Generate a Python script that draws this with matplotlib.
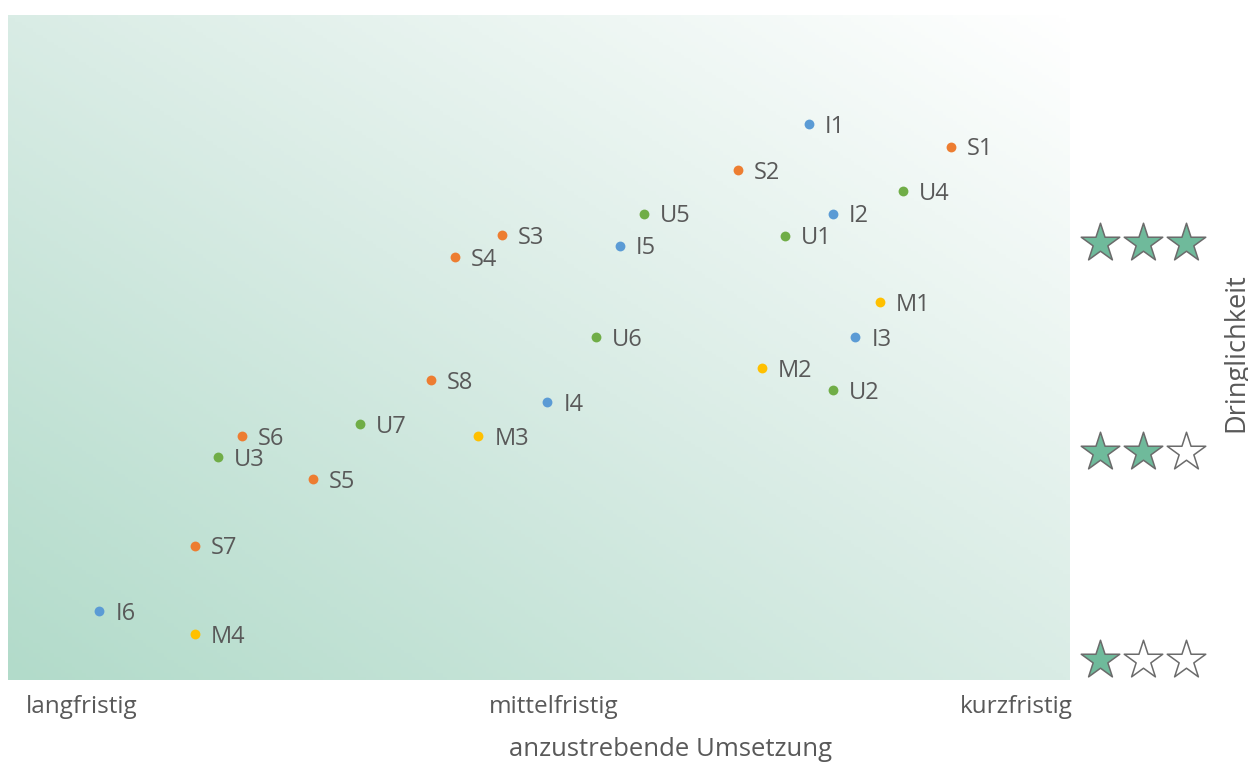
import numpy as np
import matplotlib.pyplot as plt
from matplotlib.colors import LinearSegmentedColormap

# measures: label, x (0 = langfristig, 100 = kurzfristig), y (Dringlichkeit 0..100)
labels = ["I1", "S1", "S2", "U4", "U5", "I2", "S3", "U1", "I5", "S4",
          "M1", "U6", "I3", "S8", "M2", "U2", "I4", "U7", "M3", "S6",
          "U3", "S5", "S7", "I6", "M4"]
x_vals = [75.4, 88.8, 68.7, 84.3, 59.9, 77.7, 46.5, 73.2, 57.6, 42.1,
          82.1, 55.4, 79.8, 39.8, 71.0, 77.7, 50.8, 33.1, 44.3, 22.0,
          19.8, 28.7, 17.6, 8.6, 17.6]
y_vals = [83.6, 80.2, 76.7, 73.5, 70.1, 70.1, 66.9, 66.8, 65.3, 63.6,
          56.8, 51.6, 51.6, 45.1, 46.9, 43.6, 41.8, 38.5, 36.7, 36.7,
          33.5, 30.2, 20.2, 10.4, 6.9]

group_colors = {"I": "#5B9BD5", "S": "#ED7D31", "U": "#70AD47", "M": "#FFC000"}

x_tick_pos = [6.9, 51.4, 94.9]
x_tick_labels = ["langfristig", "mittelfristig", "kurzfristig"]

# star rating rows on the right
star_levels = [3, 2, 1]
star_y = [65.7, 34.3, 3.0]

text_color = "#595959"
plt.rcParams['font.family'] = ['Open Sans', 'DejaVu Sans']

fig = plt.figure(figsize=(12.48, 7.67), dpi=100)
ax = fig.add_axes([8 / 1248, 87 / 767, 1062 / 1248, 665 / 767])
ax.set_xlim(0, 100)
ax.set_ylim(0, 100)

# diagonal gradient background
gx, gy = np.meshgrid(np.linspace(0, 1, 300), np.linspace(0, 1, 200))
t = (gx + gy) / 2
cmap = LinearSegmentedColormap.from_list("bg", ["#b2dbca", "#d9ece5", "#ffffff"])
ax.imshow(t, extent=[0, 100, 0, 100], origin="lower", cmap=cmap,
          aspect="auto", zorder=0, vmin=0, vmax=1)

for lab, x, y in zip(labels, x_vals, y_vals):
    ax.scatter(x, y, s=50, color=group_colors[lab[0]], zorder=3, linewidths=0)
    ax.text(x + 1.5, y - 0.4, lab, fontsize=17, color=text_color, va="center",
            ha="left", zorder=4)

for s in ax.spines.values():
    s.set_visible(False)
ax.set_yticks([])
ax.set_xticks([])

for pos, lab in zip(x_tick_pos, x_tick_labels):
    ax.text(pos, -4.1, lab, ha="center", va="center",
            fontsize=17.5, color=text_color, clip_on=False)
ax.text(62.4, -10.4, "anzustrebende Umsetzung", ha="center", va="center",
        fontsize=18.5, color=text_color, clip_on=False)

# star axis
sax = fig.add_axes([1075 / 1248, 87 / 767, 130 / 1248, 665 / 767])
sax.set_xlim(0, 4)
sax.set_ylim(0, 100)
sax.axis("off")
for lvl, y in zip(star_levels, star_y):
    for i in range(3):
        fc = "#6fba9b" if i < lvl else "white"
        sax.scatter(0.77 + i * 1.32, y, marker="*", s=850, facecolor=fc,
                    edgecolor="#6b6b6b", linewidths=1.1, zorder=3, clip_on=False)

fig.text(1236 / 1248, 1 - 353 / 767, "Dringlichkeit", rotation=90,
         ha="center", va="center", fontsize=19.5, color=text_color)

fig.savefig("out.png", dpi=100)
